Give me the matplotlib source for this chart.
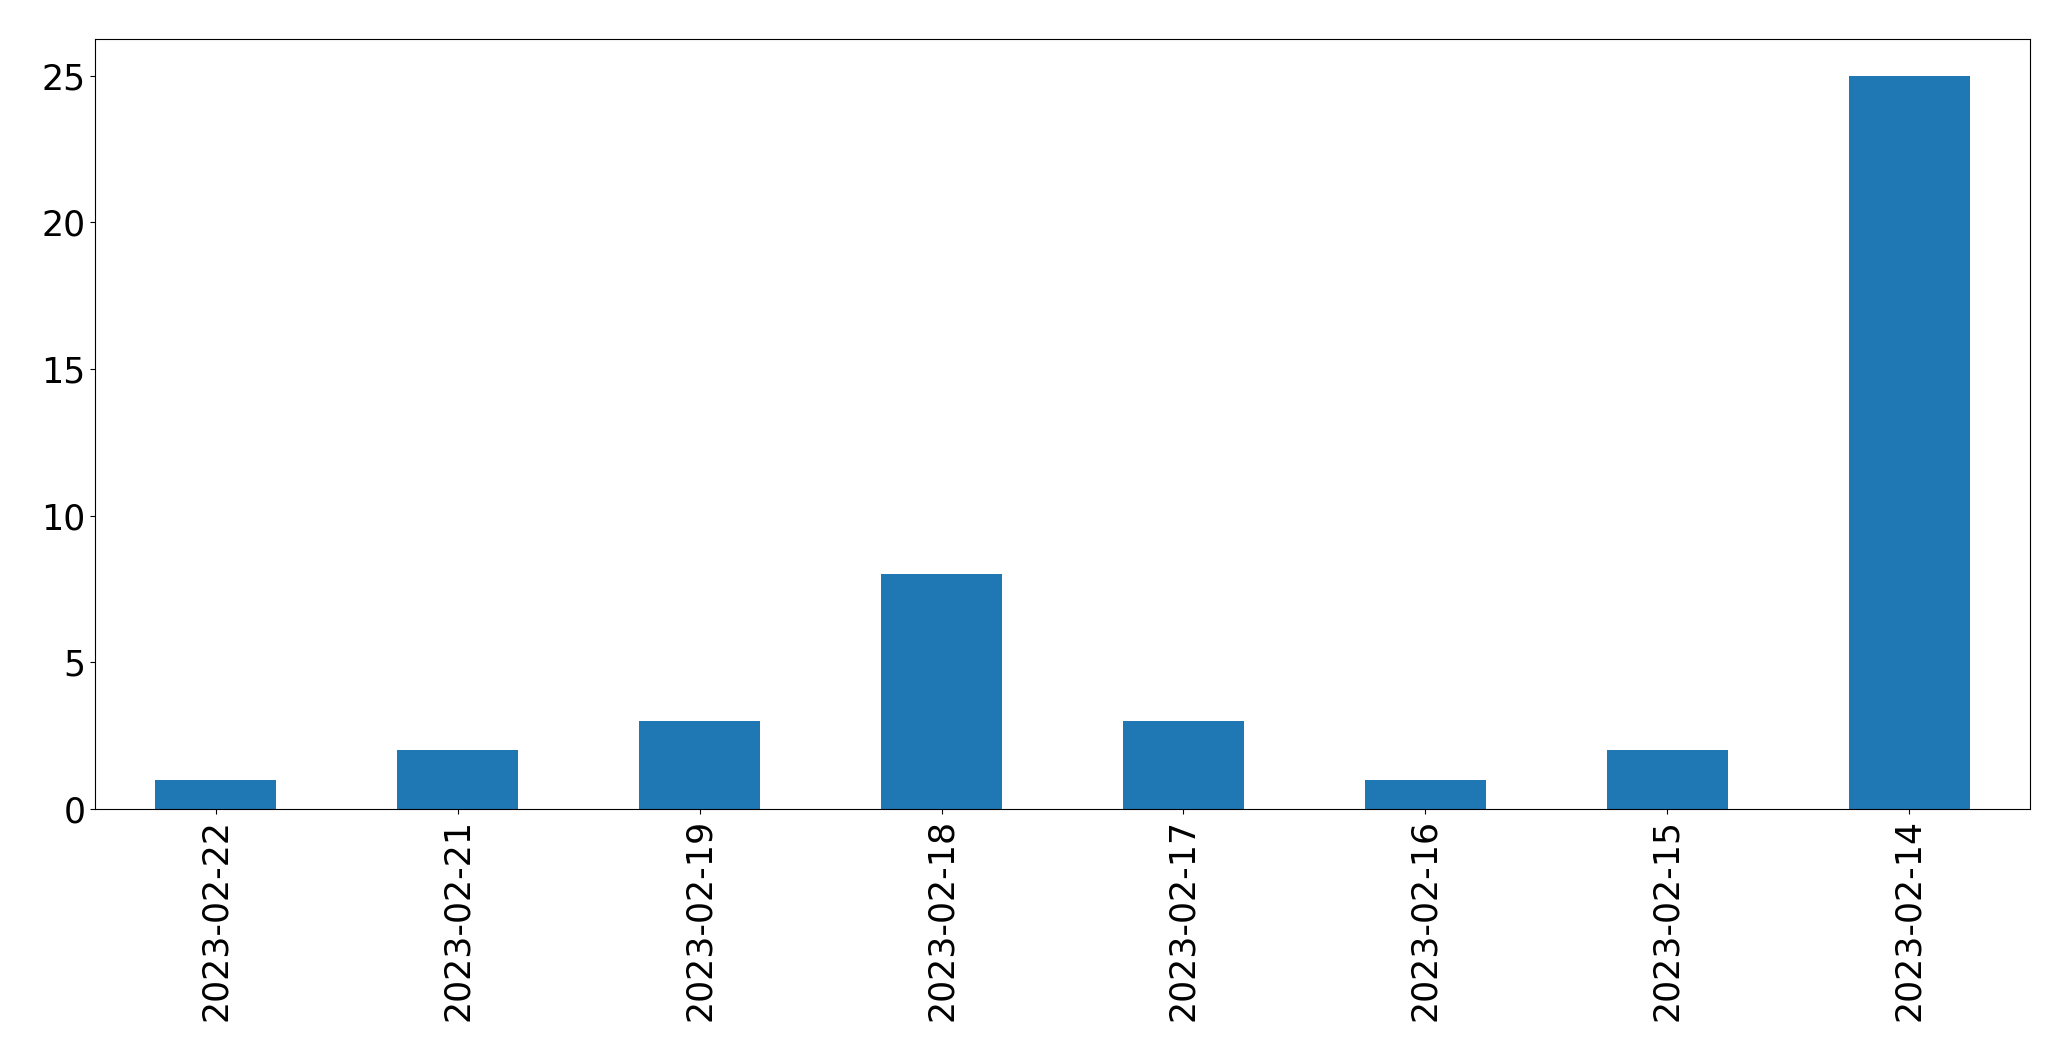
import pandas as pd
import matplotlib.pyplot as plt

dates = ['2023-02-22', '2023-02-21', '2023-02-19', '2023-02-18',
         '2023-02-17', '2023-02-16', '2023-02-15', '2023-02-14']
counts = [1, 2, 3, 8, 3, 1, 2, 25]

plt.rcParams['font.size'] = 25

s = pd.Series(counts, index=dates)

fig = plt.figure(figsize=(20.71, 10.61), dpi=100)
ax = fig.add_axes([95 / 2071, 1 - 809 / 1061, (2030 - 95) / 2071, (809 - 39) / 1061])
s.plot(kind='bar', ax=ax, color='#1f77b4')

fig.savefig('out.png', dpi=100)
